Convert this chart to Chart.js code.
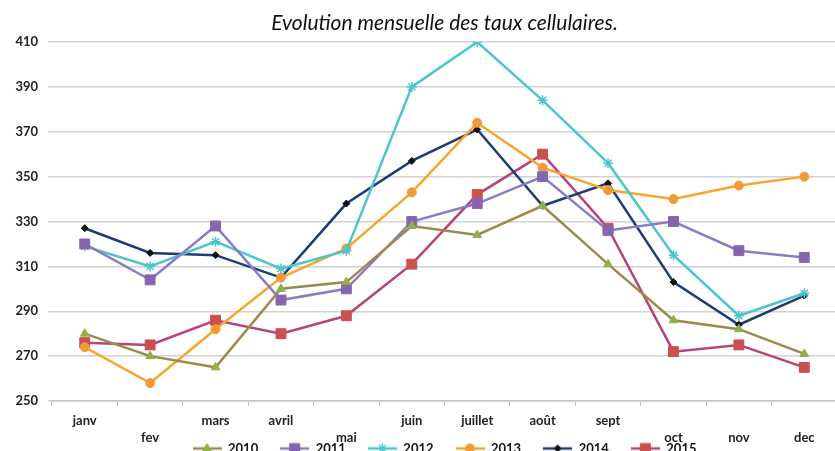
<!DOCTYPE html>
<html>
<head>
<meta charset="utf-8">
<script src="https://cdn.jsdelivr.net/npm/chart.js@4.4.0/dist/chart.umd.min.js"></script>
<style>
  html, body { margin: 0; padding: 0; overflow: hidden; background: #fff; }
</style>
</head>
<body>
<canvas id="myGraph" width="845" height="492"></canvas>
<script>
const months = ['janv', 'fev', 'mars', 'avril', 'mai', 'juin', 'juillet', 'août', 'sept', 'oct', 'nov', 'dec'];
// labels Excel pushed down to a second row
const lowRow = ['fev', 'mai', 'oct', 'nov', 'dec'];
const yMin = 250;
const yMax = 410;
const yStep = 20;

const v2010 = [280, 270, 265, 300, 303, 328, 324, 337, 311, 286, 282, 271];
const v2011 = [320, 304, 328, 295, 300, 330, 338, 350, 326, 330, 317, 314];
const v2012 = [319, 310, 321, 309, 317, 390, 410, 384, 356, 315, 288, 298];
const v2013 = [274, 258, 282, 305, 318, 343, 374, 354, 344, 340, 346, 350];
const v2014 = [327, 316, 315, 305, 338, 357, 371, 337, 347, 303, 284, 297];
const v2015 = [276, 275, 286, 280, 288, 311, 342, 360, 327, 272, 275, 265];

const labelFont = { family: 'Lato', weight: 'bold', size: 13 };

function serie(label, data, line, fill, shape, radius) {
  return {
    label: label,
    data: data,
    borderColor: line,
    backgroundColor: fill,
    borderWidth: 2.5,
    pointStyle: shape,
    pointRadius: radius,
    pointBorderColor: shape === 'star' ? line : fill,
    pointBackgroundColor: fill,
    pointBorderWidth: shape === 'star' ? 1.5 : 1,
    tension: 0
  };
}

const datasets = [
  serie('2010', v2010, '#9c8a4c', '#8fb04a', 'triangle', 5),
  serie('2011', v2011, '#8a7dc2', '#8466b0', 'rect', 7),
  serie('2012', v2012, '#4cc5cf', '#4cc5cf', 'star', 5),
  serie('2013', v2013, '#f8a52c', '#f39a36', 'circle', 4.5),
  serie('2014', v2014, '#1f3c74', '#111111', 'rectRot', 3.5),
  serie('2015', v2015, '#b8437c', '#c9504f', 'rect', 7)
];

// small line + marker picture for the legend
function legendIcon(ds) {
  const c = document.createElement('canvas');
  c.width = 29;
  c.height = 14;
  const ctx = c.getContext('2d');
  ctx.strokeStyle = ds.borderColor;
  ctx.lineWidth = 2.5;
  ctx.beginPath();
  ctx.moveTo(0, 7);
  ctx.lineTo(29, 7);
  ctx.stroke();
  ctx.fillStyle = ds.pointBackgroundColor;
  ctx.strokeStyle = ds.pointBorderColor;
  ctx.lineWidth = ds.pointBorderWidth;
  Chart.helpers.drawPoint(ctx, { pointStyle: ds.pointStyle, radius: ds.pointRadius, rotation: 0, borderWidth: ds.pointBorderWidth }, 14.5, 7);
  return c;
}
const icons = datasets.map(legendIcon);

// Excel lets the legend sit over the low row of month labels
const legendUp = {
  id: 'legendUp',
  afterLayout: function (chart) {
    const lg = chart.legend;
    if (lg) { lg.top -= 27; lg.bottom -= 27; }
  }
};

const graph = document.getElementById('myGraph');

new Chart(graph, {
  type: 'line',
  data: { labels: months, datasets: datasets },
  plugins: [legendUp],
  options: {
    responsive: false,
    animation: false,
    layout: { padding: { left: 0, right: 0, top: 0, bottom: 0 } },
    plugins: {
      tooltip: { enabled: false },
      title: {
        display: true,
        fullSize: false,
        text: 'Evolution mensuelle des taux cellulaires.',
        color: '#111',
        font: { family: 'Lato', style: 'italic', weight: 'normal', size: 21, lineHeight: 1.2 },
        padding: { top: 11, bottom: 5.8 }
      },
      legend: {
        position: 'bottom',
        fullSize: false,
        labels: {
          usePointStyle: true,
          pointStyleWidth: 29,
          padding: 22,
          color: '#111',
          font: labelFont,
          generateLabels: function (chart) {
            const items = Chart.defaults.plugins.legend.labels.generateLabels(chart);
            items.forEach(function (it, i) { it.pointStyle = icons[i]; });
            return items;
          }
        }
      }
    },
    scales: {
      x: {
        offset: true,
        grid: { offset: true, drawOnChartArea: false, drawTicks: true, tickLength: 5, color: '#c4c4c4' },
        border: { color: '#c4c4c4', width: 1.5 },
        ticks: {
          autoSkip: false,
          maxRotation: 0,
          padding: 6,
          color: '#222',
          font: { family: 'Lato', weight: 'bold', size: 13, lineHeight: 1.3 },
          callback: function (value, index) {
            const m = months[index];
            return lowRow.includes(m) ? ['', m] : m;
          }
        },
        afterFit: function (scale) { scale.height = 46; }
      },
      y: {
        min: yMin,
        max: yMax,
        ticks: { stepSize: yStep, padding: 10, color: '#222', font: labelFont },
        grid: { color: '#d2d2d2', lineWidth: 1.5, tickLength: 4 },
        border: { display: false },
        afterFit: function (scale) { scale.width = 52; }
      }
    }
  }
});
</script>
</body>
</html>
